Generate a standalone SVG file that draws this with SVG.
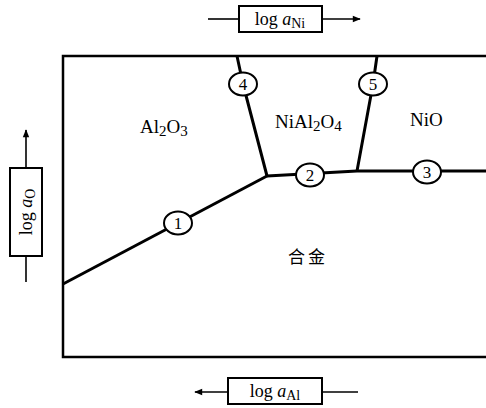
<svg xmlns="http://www.w3.org/2000/svg" width="486" height="408" viewBox="0 0 486 408">
<defs>
<style>
.t{font-family:"Liberation Serif","Times New Roman",serif;fill:#000}
.b{fill:none;stroke:#000;stroke-width:3;stroke-linejoin:round}
.f{fill:none;stroke:#000;stroke-width:2.5}
.box{fill:#fff;stroke:#000;stroke-width:2}
.ax{stroke:#000;stroke-width:1.6;fill:none}
.c{fill:#fff;stroke:#000;stroke-width:2}
.n{font-family:"Liberation Serif","Times New Roman",serif;font-size:17px;text-anchor:middle}
</style>
<marker id="ah" viewBox="0 0 10 10" refX="9" refY="5" markerWidth="10" markerHeight="8" markerUnits="userSpaceOnUse" orient="auto">
<path d="M0,1 L10,5 L0,9 Z" fill="#000"/>
</marker>
</defs>
<g id="frame">
<path class="f" d="M486,56 L63,56 L63,357 L486,357"/>
</g>
<g id="connectors">
<polyline class="b" points="63,284 267,176"/>
<polyline class="b" points="237,56 243,84 267,176"/>
<polyline class="b" points="377,56 373,84 357,171"/>
<polyline class="b" points="267,176 357,171 486,171"/>
<line class="ax" x1="208" y1="19" x2="239" y2="19"/>
<line class="ax" x1="322" y1="19" x2="360" y2="19" marker-end="url(#ah)"/>
<line class="ax" x1="26" y1="168" x2="26" y2="130" marker-end="url(#ah)"/>
<line class="ax" x1="26" y1="256" x2="26" y2="282"/>
<line class="ax" x1="228" y1="392" x2="195" y2="392" marker-end="url(#ah)"/>
<line class="ax" x1="322" y1="392" x2="358" y2="392"/>
</g>
<g id="p1"><ellipse class="c" cx="178" cy="223" rx="14" ry="11.5"/><text class="n" x="178" y="229">1</text></g>
<g id="p2"><ellipse class="c" cx="310" cy="175" rx="14" ry="11.5"/><text class="n" x="310" y="181">2</text></g>
<g id="p3"><ellipse class="c" cx="427" cy="172" rx="14" ry="11.5"/><text class="n" x="427" y="178">3</text></g>
<g id="p4"><ellipse class="c" cx="243" cy="84" rx="14" ry="11.5"/><text class="n" x="243" y="90">4</text></g>
<g id="p5"><ellipse class="c" cx="373" cy="84" rx="14" ry="11.5"/><text class="n" x="373" y="90">5</text></g>
<g id="r-al2o3"><text class="t" x="140" y="133" font-size="19">Al<tspan font-size="15" dy="3">2</tspan><tspan dy="-3">O</tspan><tspan font-size="15" dy="3">3</tspan></text></g>
<g id="r-nial2o4"><text class="t" x="275" y="128" font-size="19">NiAl<tspan font-size="15" dy="3">2</tspan><tspan dy="-3">O</tspan><tspan font-size="15" dy="3">4</tspan></text></g>
<g id="r-nio"><text class="t" x="410" y="126" font-size="19">NiO</text></g>
<g id="r-alloy"><text x="308" y="263" font-size="17" text-anchor="middle" style="font-family:'Noto Sans CJK SC',sans-serif;letter-spacing:3px">合金</text></g>
<g id="ax-ni">
<rect class="box" x="239" y="6" width="83" height="26"/>
<text class="t" x="280" y="25" font-size="18" text-anchor="middle">log <tspan font-style="italic">a</tspan><tspan font-size="14" dy="3">Ni</tspan></text>
</g>
<g id="ax-o">
<rect class="box" x="10" y="168" width="32" height="88"/>
<text class="t" transform="translate(32,212) rotate(-90)" font-size="18" text-anchor="middle">log <tspan font-style="italic">a</tspan><tspan font-size="14" dy="3">O</tspan></text>
</g>
<g id="ax-al">
<rect class="box" x="228" y="378" width="94" height="26"/>
<text class="t" x="275" y="397" font-size="18" text-anchor="middle">log <tspan font-style="italic">a</tspan><tspan font-size="14" dy="3">Al</tspan></text>
</g>
</svg>
